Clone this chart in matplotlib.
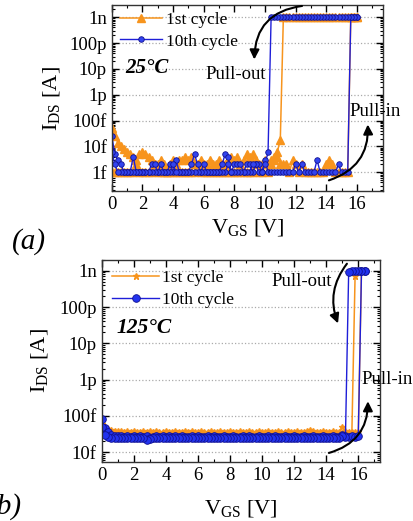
import numpy as np
import matplotlib
matplotlib.use('Agg')
import matplotlib.pyplot as plt
from matplotlib.ticker import FixedLocator, FixedFormatter, LogLocator, MultipleLocator, NullFormatter

plt.rcParams['font.family'] = ['Liberation Serif', 'DejaVu Serif']
plt.rcParams['mathtext.fontset'] = 'custom'
plt.rcParams['mathtext.rm'] = 'Liberation Serif'
plt.rcParams['mathtext.it'] = 'Liberation Serif:italic'

# sweep voltages (V), 0.2 V step
vgs_25 = np.linspace(0, 16, 81)
vgs_125 = np.linspace(0, 16.4, 83)

# currents in fA, indexed by ascending VGS; 1e6 fA = 1 nA (compliance)
# 25 C, 1st cycle
c1_up_25 = [50, 25, 14, 10, 8, 6, 5, 4, 3, 5,
            6, 5, 4, 3, 2, 2, 3, 2, 1, 2,
            3, 2, 3, 3, 4, 3, 4, 2, 2, 3,
            2, 2, 3, 2, 2, 3, 2, 2, 3, 4,
            3, 4, 2, 3, 5, 4, 5, 3, 2, 2,
            3, 2, 2, 3, 4, 2, 2, 2, 1, 3,
            2, 1, 2, 1, 1, 1, 1, 1, 1, 1,
            2, 3, 2, 1, 1, 1, 1, 1, 1e6, 1e6,
            1e6]
c1_down_25 = [1, 1, 1, 1, 1, 1, 1, 1, 2, 1,
              1, 1, 1, 1, 2, 1, 1, 1, 1, 1,
              1, 1, 1, 1, 1, 1, 1, 1, 2, 1,
              1, 1, 1, 1, 1, 1, 1, 1, 1, 1,
              1, 1, 1, 1, 1, 1, 1, 2, 1, 1,
              2, 1, 3, 4, 6, 18, 1e6, 1e6, 1e6, 1e6,
              1e6, 1e6, 1e6, 1e6, 1e6, 1e6, 1e6, 1e6, 1e6, 1e6,
              1e6, 1e6, 1e6, 1e6, 1e6, 1e6, 1e6, 1e6, 1e6, 1e6,
              1e6]
# 25 C, 10th cycle
c10_up_25 = [25, 5, 3, 2, 1, 1, 1, 4, 1, 1,
             1, 1, 1, 2, 2, 1, 2, 1, 1, 2,
             1, 3, 1, 1, 1, 1, 2, 5, 2, 1,
             2, 1, 1, 1, 1, 1, 2, 5, 4, 1,
             2, 2, 2, 1, 2, 2, 1, 2, 1, 1,
             3, 1, 1, 1, 1, 1, 1, 1, 1, 1,
             2, 1, 2, 1, 1, 1, 1, 3, 1, 1,
             1, 1, 1, 1, 2, 1, 1, 1, 1e6, 1e6,
             1e6]
c10_down_25 = [6, 2, 1, 1, 1, 1, 1, 1, 1, 1,
               1, 1, 1, 1, 1, 1, 1, 1, 1, 1,
               2, 1, 1, 1, 1, 1, 1, 1, 1, 1,
               1, 1, 1, 1, 1, 1, 1, 1, 2, 1,
               1, 1, 1, 1, 1, 1, 2, 2, 2, 1,
               2, 6, 1e6, 1e6, 1e6, 1e6, 1e6, 1e6, 1e6, 1e6,
               1e6, 1e6, 1e6, 1e6, 1e6, 1e6, 1e6, 1e6, 1e6, 1e6,
               1e6, 1e6, 1e6, 1e6, 1e6, 1e6, 1e6, 1e6, 1e6, 1e6,
               1e6]

# 125 C, 1st cycle
c1_up_125 = [60, 48, 42, 40, 38, 37, 37, 36, 37, 36,
             37, 36, 36, 37, 36, 38, 36, 37, 36, 36,
             37, 36, 36, 37, 36, 36, 37, 36, 37, 36,
             36, 37, 36, 36, 37, 36, 36, 37, 36, 36,
             37, 36, 36, 37, 36, 36, 37, 36, 36, 37,
             36, 36, 37, 36, 36, 37, 36, 36, 37, 36,
             36, 37, 36, 36, 37, 41, 37, 36, 36, 37,
             36, 36, 37, 36, 36, 50, 37, 36, 36, 36,
             36, 1e6, 1e6]
c1_down_125 = [45, 38, 35, 34, 34, 33, 34, 33, 33, 34,
               33, 34, 33, 33, 34, 33, 34, 33, 33, 34,
               33, 33, 34, 33, 34, 33, 33, 34, 33, 33,
               34, 33, 33, 34, 33, 33, 34, 33, 34, 33,
               33, 34, 33, 33, 34, 33, 33, 34, 33, 33,
               34, 33, 33, 34, 33, 34, 33, 33, 34, 33,
               33, 34, 33, 33, 34, 33, 33, 34, 33, 33,
               33, 34, 33, 33, 34, 33, 34, 33, 34, 7e5,
               1e6, 1e6, 1e6]
# 125 C, 10th cycle
c10_up_125 = [80, 45, 35, 30, 28, 27, 28, 26, 27, 26,
              27, 26, 27, 26, 27, 24, 26, 27, 26, 27,
              26, 27, 26, 27, 26, 27, 26, 26, 27, 26,
              27, 26, 26, 27, 26, 27, 26, 26, 27, 26,
              26, 27, 26, 26, 27, 26, 27, 26, 26, 27,
              26, 26, 27, 26, 27, 26, 26, 27, 26, 26,
              27, 26, 26, 27, 26, 26, 27, 26, 26, 27,
              26, 26, 27, 26, 26, 29, 27, 26, 27, 26,
              27, 1e6, 1e6]
c10_down_125 = [50, 30, 26, 25, 24, 25, 24, 25, 24, 25,
                24, 25, 24, 25, 22, 23, 24, 25, 24, 25,
                24, 25, 24, 24, 25, 24, 25, 24, 24, 25,
                24, 25, 24, 24, 25, 24, 25, 24, 24, 25,
                24, 24, 25, 24, 24, 25, 24, 24, 25, 24,
                24, 25, 24, 24, 25, 24, 24, 25, 24, 24,
                25, 24, 24, 25, 24, 24, 25, 24, 24, 25,
                24, 24, 25, 24, 24, 27, 26, 9e5, 1e6, 1e6,
                1e6, 1e6, 1e6]

orange = '#F7941D'
blue = '#1E1ED8'


def loop(v, up, down):
    # full sweep: up then back down
    x = np.concatenate([v, v[::-1]])
    y = np.concatenate([up, down[::-1]]) * 1e-15
    return x, y


def style_axes(ax, yticks, ylabels, ylim, xmax, xpad, ypad):
    ax.set_yscale('log')
    ax.set_ylim(*ylim)
    ax.set_xlim(0, xmax)
    ax.yaxis.set_major_locator(FixedLocator(yticks))
    ax.yaxis.set_major_formatter(FixedFormatter(ylabels))
    ax.yaxis.set_minor_locator(LogLocator(base=10, subs=np.arange(2, 10), numticks=30))
    ax.yaxis.set_minor_formatter(NullFormatter())
    ax.xaxis.set_major_locator(MultipleLocator(2))
    ax.xaxis.set_minor_locator(MultipleLocator(1))
    ax.tick_params(which='both', direction='in', top=True, right=True, labelsize=13.5)
    ax.tick_params(which='major', length=5, width=1)
    ax.tick_params(which='minor', length=2.5, width=0.8)
    ax.grid(True, axis='y', which='major', linestyle=':', color='#aaaaaa', lw=0.9)
    ax.set_xlabel(r'V$_{\rm GS}$ [V]', fontsize=16, labelpad=xpad)
    ax.set_ylabel(r'I$_{\rm DS}$ [A]', fontsize=16, labelpad=ypad)
    for s in ax.spines.values():
        s.set_linewidth(1)
        s.set_color('#333333')


fig = plt.figure(figsize=(4.14, 5.21), dpi=100)
arrow_kw = dict(arrowstyle='-|>', color='black', lw=1.5, mutation_scale=14)

# ---- (a) 25 C ----
ax1 = fig.add_axes([0.270, 0.633, 0.655, 0.357])
x, y = loop(vgs_25, c1_up_25, c1_down_25)
ax1.plot(x, y, color=orange, lw=1.1, marker='^', ms=5.5, mec=orange, mfc=orange, label='1st cycle')
x, y = loop(vgs_25, c10_up_25, c10_down_25)
ax1.plot(x, y, color=blue, lw=1.0, marker='o', ms=4, mfc='#3344EE', mec='#101090', mew=0.6, label='10th cycle')
style_axes(ax1, [1e-15, 1e-14, 1e-13, 1e-12, 1e-11, 1e-10, 1e-9],
           ['1f', '10f', '100f', '1p', '10p', '100p', '1n'], (1.84e-16, 2.9e-9), 17.7, 3, 5)
ax1.legend(loc='upper left', frameon=False, fontsize=12.5, handlelength=2.4, borderaxespad=0.1,
           labelspacing=0.3, handletextpad=0.2, bbox_to_anchor=(0.0, 1.01))
ax1.text(0.9, 1.1e-11, '25°C', fontsize=15, fontweight='bold', fontstyle='italic', va='center')
ax1.text(6.1, 6e-12, 'Pull-out', fontsize=13.5, va='center')
ax1.text(15.5, 2.2e-13, 'Pull-in', fontsize=13.5, va='center')
ax1.annotate('', xy=(9.3, 1.8e-11), xytext=(12.6, 2.8e-9),
             arrowprops=dict(connectionstyle='arc3,rad=0.45', **arrow_kw), annotation_clip=False)
ax1.annotate('', xy=(16.7, 9e-14), xytext=(14.0, 4.5e-16),
             arrowprops=dict(connectionstyle='arc3,rad=0.4', **arrow_kw), annotation_clip=False)
fig.text(0.028, 0.537, '(a)', fontsize=21, fontstyle='italic', va='center')

# ---- (b) 125 C ----
ax2 = fig.add_axes([0.2457, 0.1132, 0.672, 0.388])
x, y = loop(vgs_125, c1_up_125, c1_down_125)
ax2.plot(x, y, color=orange, lw=1.1, marker='*', ms=5, mec=orange, mfc=orange, label='1st cycle')
x, y = loop(vgs_125, c10_up_125, c10_down_125)
ax2.plot(x, y, color=blue, lw=1.0, marker='o', ms=5.5, mfc='#2233EE', mec='#101090', mew=0.6, label='10th cycle')
style_axes(ax2, [1e-14, 1e-13, 1e-12, 1e-11, 1e-10, 1e-9],
           ['10f', '100f', '1p', '10p', '100p', '1n'], (5.3e-15, 2.0e-9), 17.35, 10, 7)
ax2.legend(loc='upper left', frameon=False, fontsize=12.5, handlelength=2.7, borderaxespad=0.2,
           labelspacing=0.3, handletextpad=0.2, bbox_to_anchor=(0.0, 1.0))
ax2.text(0.9, 2.6e-11, '125°C', fontsize=15.5, fontweight='bold', fontstyle='italic', va='center')
ax2.text(10.6, 5e-10, 'Pull-out', fontsize=13.5, va='center')
ax2.text(16.2, 1e-12, 'Pull-in', fontsize=13.5, va='center')
ax2.annotate('', xy=(14.8, 3e-11), xytext=(15.4, 1.8e-9),
             arrowprops=dict(connectionstyle='arc3,rad=0.3', **arrow_kw), annotation_clip=False)
ax2.annotate('', xy=(16.6, 3e-13), xytext=(14.0, 9e-15),
             arrowprops=dict(connectionstyle='arc3,rad=0.4', **arrow_kw), annotation_clip=False)
fig.text(-0.03, 0.027, '(b)', fontsize=21, fontstyle='italic', va='center')

fig.savefig('out.png', dpi=100)
